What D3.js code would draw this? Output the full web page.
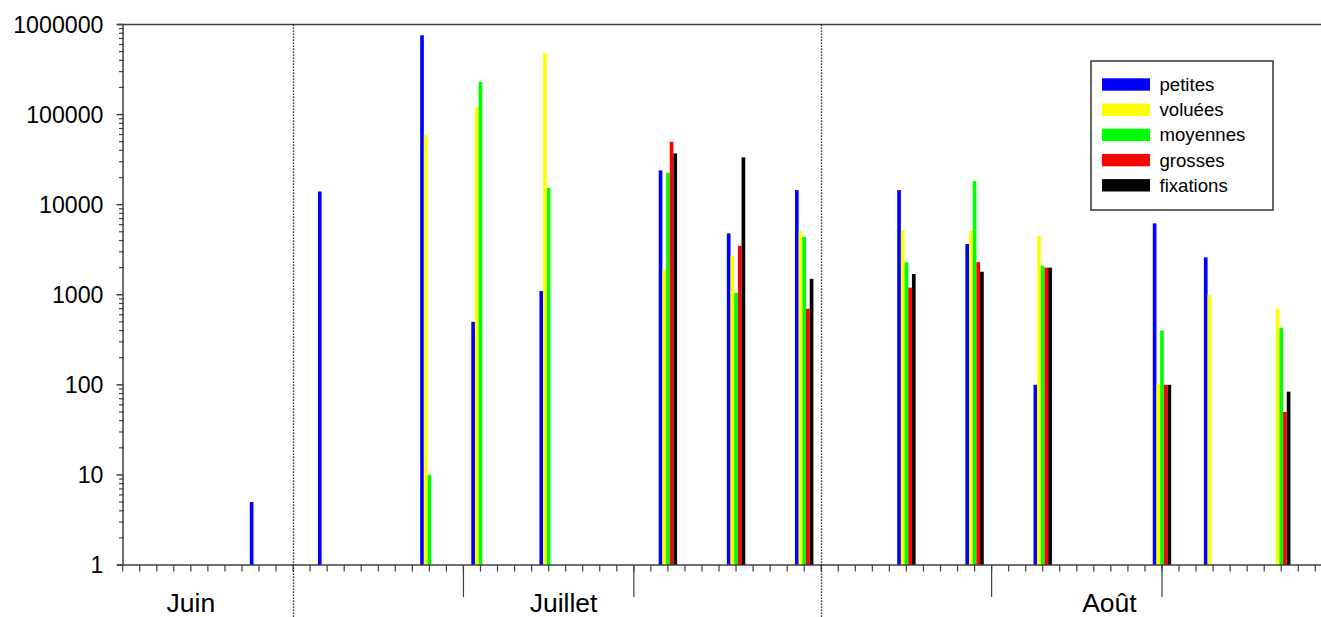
<!DOCTYPE html>
<html lang="fr">
<head>
    <meta charset="utf-8">
    <title>Captures par date</title>
    <script type="text/javascript" src="https://cdn.jsdelivr.net/npm/d3@7/dist/d3.min.js"></script>
    <style>
        body { margin: 0; background: #fff; }
        text { font-family: Arial, "Liberation Sans", Helvetica, sans-serif; fill: #000; }
    </style>
</head>
<body>
    <script type="text/javascript">

        // dates de relevé (jour-mois), une valeur par série et par date
        var dates     = ["06-29", "07-03", "07-09", "07-12", "07-16", "07-23", "07-27", "07-31",
                         "08-06", "08-10", "08-14", "08-21", "08-24", "08-28"];
        var petites   = [5, 14000, 760000, 500, 1100, 24000, 4800, 14500, 14500, 3650, 100, 6200, 2600, null];
        var voluees   = [null, null, 60000, 120000, 485000, 1900, 2700, 5100, 5200, 5100, 4500, 100, 1000, 700];
        var moyennes  = [null, null, 10, 230000, 15300, 22600, 1050, 4400, 2300, 18300, 2100, 400, null, 430];
        var grosses   = [null, null, null, null, null, 50000, 3500, 700, 1200, 2300, 2000, 100, null, 50];
        var fixations = [null, null, null, null, null, 37000, 33500, 1500, 1700, 1800, 2000, 100, null, 84];

        var seriesNames = ["petites", "voluées", "moyennes", "grosses", "fixations"];
        var seriesColors = ["#0000ff", "#ffff00", "#00ff00", "#ff0000", "#000000"];
        var seriesValues = [petites, voluees, moyennes, grosses, fixations];

        var yTicks = [1, 10, 100, 1000, 10000, 100000, 1000000];
        var monthNames = ["Juin", "Juillet", "Août"];
        var monthStarts = ["07-01", "08-01"];
        var longTicks = ["07-11", "07-21", "08-11", "08-21"];

        var w = 1321;
        var h = 617;

        var parse = d3.utcParse("%Y-%m-%d");
        function day(s) { return parse("2001-" + s); }

        var start = day("06-21");
        var x = d3.scaleUtc()
            .domain([start, d3.utcHour.offset(start, 70.37 * 24)])
            .range([122.7, 1321]);

        var y = d3.scaleLog()
            .domain([1, 1000000])
            .range([565, 24.5]);

        var inner = d3.scaleBand()
            .domain(seriesNames)
            .range([-9.2, 9.2]);

        var svg = d3.select("body")
            .append("svg")
            .attr("width", w)
            .attr("height", h);

        // bars
        var rows = [];
        seriesValues.forEach(function(vals, s) {
            vals.forEach(function(v, i) {
                if (v != null) rows.push({ date: day(dates[i]), name: seriesNames[s], color: seriesColors[s], value: v });
            });
        });

        svg.selectAll("rect.bar")
            .data(rows)
            .enter()
            .append("rect")
            .attr("class", "bar")
            .attr("x", function(d) { return x(d.date) + inner(d.name); })
            .attr("width", inner.bandwidth())
            .attr("y", function(d) { return y(d.value); })
            .attr("height", function(d) { return y(1) - y(d.value); })
            .attr("fill", function(d) { return d.color; });

        var axisColor = "#404040";

        // frame: top line, left axis, bottom axis
        svg.append("line")
            .attr("x1", 117).attr("x2", w)
            .attr("y1", y(1000000)).attr("y2", y(1000000))
            .attr("stroke", axisColor).attr("stroke-width", 1.5);
        svg.append("line")
            .attr("x1", 117).attr("x2", w)
            .attr("y1", y(1)).attr("y2", y(1))
            .attr("stroke", axisColor).attr("stroke-width", 1.5);
        svg.append("line")
            .attr("x1", 123).attr("x2", 123)
            .attr("y1", y(1000000)).attr("y2", y(1))
            .attr("stroke", axisColor).attr("stroke-width", 1.5);

        // y ticks
        var minor = [];
        for (var e = 0; e < 6; e++) {
            for (var k = 2; k <= 9; k++) minor.push(k * Math.pow(10, e));
        }
        svg.selectAll("line.ymin")
            .data(minor)
            .enter()
            .append("line")
            .attr("x1", 119).attr("x2", 124)
            .attr("y1", function(d) { return y(d); })
            .attr("y2", function(d) { return y(d); })
            .attr("stroke", axisColor).attr("stroke-width", 1.2);
        svg.selectAll("line.ymaj")
            .data(yTicks)
            .enter()
            .append("line")
            .attr("x1", 116.5).attr("x2", 123)
            .attr("y1", function(d) { return y(d); })
            .attr("y2", function(d) { return y(d); })
            .attr("stroke", axisColor).attr("stroke-width", 1.5);
        svg.selectAll("text.ylab")
            .data(yTicks)
            .enter()
            .append("text")
            .attr("x", 103.5)
            .attr("y", function(d) { return y(d); })
            .attr("dy", "0.36em")
            .attr("text-anchor", "end")
            .style("font-size", "23.2px")
            .text(function(d) { return d; });

        // x ticks, one per day
        var days = d3.utcDay.range(start, x.domain()[1]);
        svg.selectAll("line.xmin")
            .data(days)
            .enter()
            .append("line")
            .attr("x1", function(d) { return x(d); })
            .attr("x2", function(d) { return x(d); })
            .attr("y1", y(1)).attr("y2", 571.5)
            .attr("stroke", axisColor).attr("stroke-width", 1.2);
        svg.selectAll("line.xmaj")
            .data(longTicks)
            .enter()
            .append("line")
            .attr("x1", function(d) { return x(day(d)); })
            .attr("x2", function(d) { return x(day(d)); })
            .attr("y1", y(1)).attr("y2", 597)
            .attr("stroke", axisColor).attr("stroke-width", 1.2);

        // month separators
        svg.selectAll("line.month")
            .data(monthStarts)
            .enter()
            .append("line")
            .attr("x1", function(d) { return Math.round(x(day(d))) + 0.5; })
            .attr("x2", function(d) { return Math.round(x(day(d))) + 0.5; })
            .attr("y1", y(1000000)).attr("y2", h)
            .attr("stroke", "#000").attr("stroke-width", 1.3)
            .attr("stroke-dasharray", "1.3,1.7");

        var monthPos = [day("06-25"), d3.utcHour.offset(day("07-16"), 21), d3.utcHour.offset(day("08-17"), 22)];
        svg.selectAll("text.month")
            .data(monthNames)
            .enter()
            .append("text")
            .attr("x", function(d, i) { return x(monthPos[i]); })
            .attr("y", 612)
            .attr("text-anchor", "middle")
            .style("font-size", "26.5px")
            .text(function(d) { return d; });

        // legend
        var lg = svg.append("g");
        lg.append("rect")
            .attr("x", 1091).attr("y", 61)
            .attr("width", 182).attr("height", 149)
            .attr("fill", "#fff")
            .attr("stroke", "#333").attr("stroke-width", 1.5);
        var item = lg.selectAll("g.item")
            .data(seriesNames)
            .enter()
            .append("g")
            .attr("transform", function(d, i) { return "translate(1102," + (78.3 + i * 25.2) + ")"; });
        item.append("rect")
            .attr("width", 48).attr("height", 12.4)
            .attr("fill", function(d, i) { return seriesColors[i]; });
        item.append("text")
            .attr("x", 57.5)
            .attr("y", 12.6)
            .style("font-size", "18.6px")
            .text(function(d) { return d; });

    </script>
</body>
</html>
